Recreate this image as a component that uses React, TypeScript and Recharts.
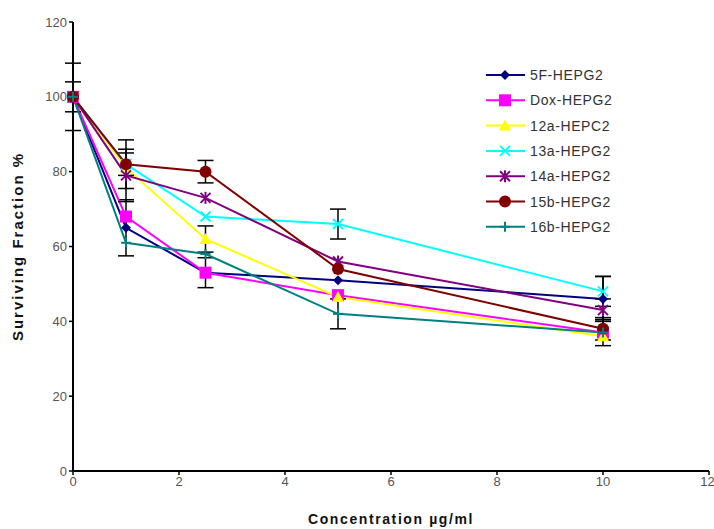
import React from 'react'
import { LineChart, Line, XAxis, YAxis, ErrorBar } from 'recharts'

const concentrations = [0, 1, 2.5, 5, 10]

const fiveF = [100, 65, 53, 51, 46]
const dox = [100, 68, 53, 47, 37]
const c12a = [100, 81, 62, 46.5, 36]
const c13a = [100, 82, 68, 66, 48]
const c14a = [100, 79, 73, 56, 43]
const c15b = [100, 82, 80, 54, 38]
const c16b = [100, 61, 58, 42, 37]

const fiveFErr = [null, 7.5, null, null, 6]
const doxErr = [null, null, 4, null, null]
const c12aErr = [null, null, 3.5, null, null]
const c13aErr = [4, 3, null, 4, 4]
const c14aErr = [null, 7, null, null, 3]
const c15bErr = [9, 6.5, 3, null, 3]
const c16bErr = [null, null, null, 4, 3.5]

const xTicks = [0, 2, 4, 6, 8, 10, 12]
const yTicks = [0, 20, 40, 60, 80, 100, 120]

const series = [
  { key: 'f5', name: '5F-HEPG2', color: '#000080', shape: 'diamond', values: fiveF, err: fiveFErr },
  { key: 'dox', name: 'Dox-HEPG2', color: '#ff00ff', shape: 'square', values: dox, err: doxErr },
  { key: 'a12', name: '12a-HEPC2', color: '#ffff00', shape: 'triangle', values: c12a, err: c12aErr },
  { key: 'a13', name: '13a-HEPG2', color: '#00ffff', shape: 'x', values: c13a, err: c13aErr },
  { key: 'a14', name: '14a-HEPG2', color: '#800080', shape: 'star', values: c14a, err: c14aErr },
  { key: 'b15', name: '15b-HEPG2', color: '#800000', shape: 'circle', values: c15b, err: c15bErr },
  { key: 'b16', name: '16b-HEPG2', color: '#008080', shape: 'plus', values: c16b, err: c16bErr },
]

const data = concentrations.map((c, i) => {
  const row: any = { x: c }
  series.forEach((s) => {
    row[s.key] = s.values[i]
    row[s.key + 'Err'] = s.err[i]
  })
  return row
})

function marker(shape: string, color: string, cx: number, cy: number, key?: any) {
  switch (shape) {
    case 'diamond':
      return <path key={key} d={`M${cx},${cy - 5}L${cx + 5},${cy}L${cx},${cy + 5}L${cx - 5},${cy}Z`} fill={color} />
    case 'square':
      return <rect key={key} x={cx - 6} y={cy - 6} width={12} height={12} fill={color} />
    case 'triangle':
      return <path key={key} d={`M${cx},${cy - 6}L${cx + 6},${cy + 5}L${cx - 6},${cy + 5}Z`} fill={color} />
    case 'x':
      return (
        <g key={key} stroke={color} strokeWidth={2}>
          <line x1={cx - 5} y1={cy - 5} x2={cx + 5} y2={cy + 5} />
          <line x1={cx - 5} y1={cy + 5} x2={cx + 5} y2={cy - 5} />
        </g>
      )
    case 'star':
      return (
        <g key={key} stroke={color} strokeWidth={2}>
          <line x1={cx - 5} y1={cy - 5} x2={cx + 5} y2={cy + 5} />
          <line x1={cx - 5} y1={cy + 5} x2={cx + 5} y2={cy - 5} />
          <line x1={cx} y1={cy - 6} x2={cx} y2={cy + 6} />
        </g>
      )
    case 'circle':
      return <circle key={key} cx={cx} cy={cy} r={6} fill={color} />
    default:
      return (
        <g key={key} stroke={color} strokeWidth={2}>
          <line x1={cx - 5} y1={cy} x2={cx + 5} y2={cy} />
          <line x1={cx} y1={cy - 5} x2={cx} y2={cy + 5} />
        </g>
      )
  }
}

function LegendBox() {
  return (
    <svg width={180} height={180} style={{ position: 'absolute', left: 483, top: 62 }}>
      {series.map((s) => {
        const y = 13 + series.indexOf(s) * 25.3
        return (
          <g key={s.key}>
            <line x1={3} y1={y} x2={42} y2={y} stroke={s.color} strokeWidth={2} />
            {marker(s.shape, s.color, 22, y)}
            <text x={47} y={y + 5} fontSize={14} letterSpacing={0.6} fill="#333" fontFamily="Liberation Sans, Arial, sans-serif">
              {s.name}
            </text>
          </g>
        )
      })}
    </svg>
  )
}

const tickStyle = { fontSize: 13, fill: '#555', fontFamily: 'Liberation Sans, Arial, sans-serif' }

export default function App() {
  return (
    <div style={{ position: 'absolute', left: 0, top: 0, width: 714, height: 529, background: '#fff' }}>
      <LineChart width={714} height={529} data={data} margin={{ top: 22, right: 5, left: 0, bottom: 0 }}>
        <XAxis
          dataKey="x"
          type="number"
          domain={[0, 12]}
          ticks={xTicks}
          height={58}
          axisLine={{ stroke: '#000', strokeWidth: 2 }}
          tickLine={{ stroke: '#000', strokeWidth: 1.5 }}
          tickSize={4}
          tick={tickStyle}
          label={{
            value: 'Concentration µg/ml',
            position: 'insideBottom',
            offset: 5,
            style: { fontSize: 14, letterSpacing: 1.6, fontWeight: 'bold', fill: '#111', fontFamily: 'Liberation Sans, Arial, sans-serif' },
          }}
        />
        <YAxis
          type="number"
          domain={[0, 120]}
          ticks={yTicks}
          width={73}
          axisLine={{ stroke: '#000', strokeWidth: 2 }}
          tickLine={{ stroke: '#000', strokeWidth: 1.5 }}
          tickSize={4}
          tick={tickStyle}
          label={{
            value: 'Surviving Fraction %',
            angle: -90,
            position: 'insideLeft',
            offset: 18,
            style: { textAnchor: 'middle', fontSize: 15, letterSpacing: 2, fontWeight: 'bold', fill: '#111', fontFamily: 'Liberation Sans, Arial, sans-serif' },
          }}
        />
        {series.map((s) => (
          <Line
            key={s.key}
            dataKey={s.key}
            name={s.name}
            type="linear"
            stroke={s.color}
            strokeWidth={2}
            isAnimationActive={false}
            dot={(p: any) => marker(s.shape, s.color, p.cx, p.cy, `${s.key}-${p.index}`)}
            activeDot={false}
          >
            <ErrorBar dataKey={s.key + 'Err'} width={8} stroke="#000" strokeWidth={1.5} direction="y" />
          </Line>
        ))}
      </LineChart>
      <LegendBox />
    </div>
  )
}
